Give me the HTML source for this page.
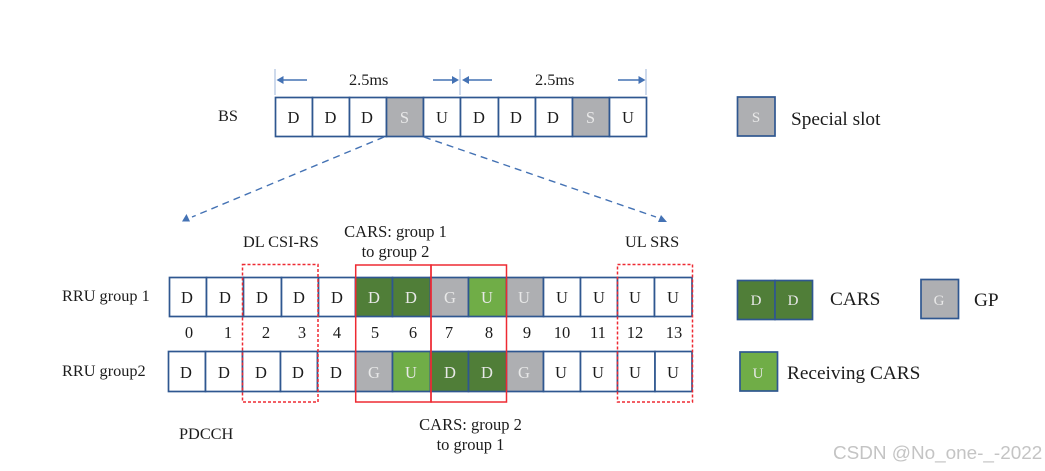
<!DOCTYPE html>
<html><head><meta charset="utf-8">
<style>
html,body{margin:0;padding:0;background:#fff;width:1045px;height:471px;overflow:hidden}
svg{display:block}
text{font-family:"Liberation Serif",serif;fill:#1c1c1c}
.c{font-size:16.5px;text-anchor:middle}
.w{fill:#e8e8e8}
.s{font-size:15px}
.l{font-size:16.3px}
.n{font-size:16.5px;text-anchor:middle}
.b{font-size:19.3px}
</style></head><body>
<svg width="1045" height="471" viewBox="0 0 1045 471" xmlns="http://www.w3.org/2000/svg">
<g fill="#fff" stroke="#2f5790" stroke-width="1.7">
<rect x="275.5" y="97.5" width="37" height="39"/><rect x="312.5" y="97.5" width="37" height="39"/><rect x="349.5" y="97.5" width="37" height="39"/>
<rect x="386.5" y="97.5" width="37" height="39" fill="#aeafb2"/>
<rect x="423.5" y="97.5" width="37" height="39"/><rect x="460.5" y="97.5" width="38" height="39"/><rect x="498.5" y="97.5" width="37" height="39"/><rect x="535.5" y="97.5" width="37" height="39"/>
<rect x="572.5" y="97.5" width="37" height="39" fill="#aeafb2"/>
<rect x="609.5" y="97.5" width="37" height="39"/>
<!-- RRU1 -->
<rect x="169.5" y="277.5" width="37" height="39"/><rect x="206.5" y="277.5" width="37" height="39"/><rect x="243.5" y="277.5" width="38" height="39"/><rect x="281.5" y="277.5" width="37" height="39"/><rect x="318.5" y="277.5" width="37" height="39"/>
<rect x="355.5" y="277.5" width="37" height="39" fill="#507e38"/><rect x="392.5" y="277.5" width="38" height="39" fill="#507e38"/>
<rect x="430.5" y="277.5" width="38" height="39" fill="#aeafb2"/><rect x="468.5" y="277.5" width="38" height="39" fill="#70ad47"/>
<rect x="506.5" y="277.5" width="37" height="39" fill="#aeafb2"/>
<rect x="543.5" y="277.5" width="37" height="39"/><rect x="580.5" y="277.5" width="37" height="39"/><rect x="617.5" y="277.5" width="37" height="39"/><rect x="654.5" y="277.5" width="37.5" height="39"/>
<!-- RRU2 -->
<rect x="168.5" y="351.5" width="37" height="40"/><rect x="205.5" y="351.5" width="37" height="40"/><rect x="242.5" y="351.5" width="38" height="40"/><rect x="280.5" y="351.5" width="37" height="40"/><rect x="317.5" y="351.5" width="38" height="40"/>
<rect x="355.5" y="351.5" width="37" height="40" fill="#aeafb2"/><rect x="392.5" y="351.5" width="38" height="40" fill="#70ad47"/>
<rect x="430.5" y="351.5" width="38" height="40" fill="#507e38"/><rect x="468.5" y="351.5" width="38" height="40" fill="#507e38"/>
<rect x="506.5" y="351.5" width="37" height="40" fill="#aeafb2"/>
<rect x="543.5" y="351.5" width="37" height="40"/><rect x="580.5" y="351.5" width="37" height="40"/><rect x="617.5" y="351.5" width="37.5" height="40"/><rect x="655" y="351.5" width="37" height="40"/>
<!-- legend -->
<rect x="737.5" y="97" width="37.5" height="39" fill="#aeafb2"/>
<rect x="737.5" y="280.5" width="37.5" height="39" fill="#507e38"/><rect x="775" y="280.5" width="37.5" height="39" fill="#507e38"/>
<rect x="921" y="279.5" width="37.5" height="39" fill="#aeafb2"/>
<rect x="740" y="352" width="37.5" height="39" fill="#70ad47"/>
</g>
<!-- red boxes -->
<g fill="none" stroke="#ee2a32" stroke-width="1.5">
<rect x="355.7" y="265" width="75.3" height="137"/>
<rect x="431" y="265" width="75.5" height="137"/>
<g stroke-dasharray="3 2">
<rect x="242.5" y="264.5" width="75.5" height="137.5"/>
<rect x="617.5" y="264.5" width="75" height="137.5"/>
</g>
</g>
<!-- dimension -->
<g stroke="#9db4d8" stroke-width="1" fill="none">
<path d="M275 69V95M460 69V95M646 69V95"/>
</g>
<g stroke="#4472b4" stroke-width="1.5" fill="#4472b4">
<path d="M281 80H307M433 80H455M467 80H492M618 80H641"/>
<path stroke="none" d="M276.5 80l7-4v8zM459 80l-7-4v8zM462 80l7-4v8zM645.5 80l-7-4v8z"/>
</g>
<!-- dashed connectors -->
<g stroke="#4472b4" stroke-width="1.4" fill="none" stroke-dasharray="7 5">
<path d="M384 137L192 217"/><path d="M424 137L656 217"/>
</g>
<path fill="#4472b4" d="M182 221.5L190 221.5L186.5 214zM661 215L667 222L658 222z"/>
<!-- cell letters -->
<g class="cells">
<text class="c" x="293.5" y="123">D</text><text class="c" x="330.5" y="123">D</text><text class="c" x="367" y="123">D</text><text class="c w" x="404.5" y="123">S</text><text class="c" x="442" y="123">U</text><text class="c" x="479" y="123">D</text><text class="c" x="516" y="123">D</text><text class="c" x="553" y="123">D</text><text class="c w" x="590.5" y="123">S</text><text class="c" x="628" y="123">U</text>

<text class="c" x="187" y="303">D</text><text class="c" x="225" y="303">D</text><text class="c" x="262" y="303">D</text><text class="c" x="299" y="303">D</text><text class="c" x="337" y="303">D</text><text class="c w" x="374" y="303">D</text><text class="c w" x="411" y="303">D</text><text class="c w" x="450" y="303">G</text><text class="c w" x="487" y="303">U</text><text class="c w" x="524" y="303">U</text><text class="c" x="562" y="303">U</text><text class="c" x="599" y="303">U</text><text class="c" x="635" y="303">U</text><text class="c" x="673" y="303">U</text>

<text class="c" x="186" y="378">D</text><text class="c" x="224" y="378">D</text><text class="c" x="261" y="378">D</text><text class="c" x="298" y="378">D</text><text class="c" x="336" y="378">D</text><text class="c w" x="374" y="378">G</text><text class="c w" x="411" y="378">U</text><text class="c w" x="450" y="378">D</text><text class="c w" x="487" y="378">D</text><text class="c w" x="524" y="378">G</text><text class="c" x="561" y="378">U</text><text class="c" x="598" y="378">U</text><text class="c" x="635" y="378">U</text><text class="c" x="673" y="378">U</text>

<text class="c w s" x="756" y="122">S</text>
<text class="c w s" x="756" y="305">D</text><text class="c w s" x="793" y="305">D</text>
<text class="c w s" x="939" y="305">G</text>
<text class="c w s" x="758" y="378">U</text>
</g>
<!-- numbers -->
<g>
<text class="n" x="189" y="338">0</text><text class="n" x="228" y="338">1</text><text class="n" x="266" y="338">2</text><text class="n" x="302" y="338">3</text><text class="n" x="337" y="338">4</text><text class="n" x="375" y="338">5</text><text class="n" x="413" y="338">6</text><text class="n" x="449" y="338">7</text><text class="n" x="489" y="338">8</text><text class="n" x="527" y="338">9</text><text class="n" x="562" y="338">10</text><text class="n" x="598" y="338">11</text><text class="n" x="635" y="338">12</text><text class="n" x="674" y="338">13</text>
</g>
<!-- labels -->
<text class="l" x="349" y="85">2.5ms</text>
<text class="l" x="535" y="85">2.5ms</text>
<text class="l" x="218" y="121">BS</text>
<text class="l" x="62" y="301">RRU group 1</text>
<text class="l" x="62" y="376">RRU group2</text>
<text class="l" x="243" y="247">DL CSI-RS</text>
<text class="l" x="625" y="247">UL SRS</text>
<text class="l" x="179" y="439">PDCCH</text>
<text class="n" x="395.5" y="237">CARS: group 1</text>
<text class="n" x="395.5" y="257">to group 2</text>
<text class="n" x="470.5" y="430">CARS: group 2</text>
<text class="n" x="470.5" y="450">to group 1</text>
<text class="b" x="791" y="125">Special slot</text>
<text class="b" x="830" y="305">CARS</text>
<text class="b" x="974" y="306">GP</text>
<text class="b" x="787" y="379">Receiving CARS</text>
<text x="833" y="459" style="font-family:'Liberation Sans',sans-serif;font-size:18.9px;fill:#c4c4c4">CSDN @No_one-_-2022</text>
</svg>
</body></html>
